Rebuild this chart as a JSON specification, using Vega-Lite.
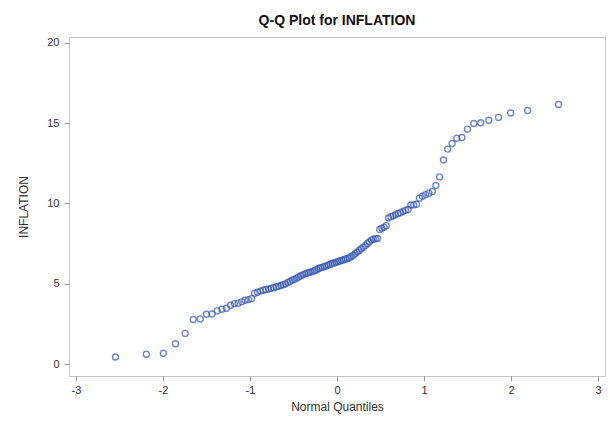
{
  "$schema": "https://vega.github.io/schema/vega-lite/v6.json",
  "width": 536,
  "height": 339,
  "autosize": {"type": "none"},
  "padding": {"left": 69, "top": 37, "right": 5, "bottom": 45},
  "background": "white",
  "title": {
    "text": "Q-Q Plot for INFLATION",
    "font": "Liberation Sans",
    "fontSize": 14,
    "fontWeight": "bold",
    "color": "#111111",
    "anchor": "middle",
    "offset": 9
  },
  "config": {
    "view": {"stroke": "#c6c6c6", "strokeWidth": 1},
    "axis": {
      "domain": false,
      "grid": false,
      "tickColor": "#9a9a9a",
      "tickSize": 5,
      "labelFont": "Liberation Sans",
      "labelFontSize": 11,
      "labelColor": "#333333",
      "titleFont": "Liberation Sans",
      "titleFontSize": 12,
      "titleFontWeight": "normal",
      "titleColor": "#333333"
    }
  },
  "data": {
    "values": [
      {"q": -2.546, "inflation": 0.45},
      {"q": -2.191, "inflation": 0.62},
      {"q": -1.996, "inflation": 0.68},
      {"q": -1.856, "inflation": 1.28},
      {"q": -1.745, "inflation": 1.92},
      {"q": -1.652, "inflation": 2.78},
      {"q": -1.572, "inflation": 2.82},
      {"q": -1.5, "inflation": 3.11},
      {"q": -1.436, "inflation": 3.13},
      {"q": -1.377, "inflation": 3.32},
      {"q": -1.323, "inflation": 3.42},
      {"q": -1.272, "inflation": 3.48},
      {"q": -1.224, "inflation": 3.67},
      {"q": -1.179, "inflation": 3.77},
      {"q": -1.136, "inflation": 3.8},
      {"q": -1.095, "inflation": 3.88},
      {"q": -1.056, "inflation": 3.98},
      {"q": -1.018, "inflation": 4.02},
      {"q": -0.982, "inflation": 4.08},
      {"q": -0.947, "inflation": 4.42},
      {"q": -0.913, "inflation": 4.48},
      {"q": -0.88, "inflation": 4.55},
      {"q": -0.848, "inflation": 4.6},
      {"q": -0.818, "inflation": 4.65},
      {"q": -0.787, "inflation": 4.68},
      {"q": -0.758, "inflation": 4.72},
      {"q": -0.729, "inflation": 4.76},
      {"q": -0.701, "inflation": 4.8},
      {"q": -0.673, "inflation": 4.85},
      {"q": -0.645, "inflation": 4.9},
      {"q": -0.619, "inflation": 4.95},
      {"q": -0.592, "inflation": 5.0},
      {"q": -0.566, "inflation": 5.08},
      {"q": -0.541, "inflation": 5.15},
      {"q": -0.515, "inflation": 5.22},
      {"q": -0.491, "inflation": 5.28},
      {"q": -0.466, "inflation": 5.35},
      {"q": -0.442, "inflation": 5.42},
      {"q": -0.418, "inflation": 5.5},
      {"q": -0.394, "inflation": 5.56},
      {"q": -0.37, "inflation": 5.62},
      {"q": -0.347, "inflation": 5.66},
      {"q": -0.324, "inflation": 5.7},
      {"q": -0.301, "inflation": 5.74},
      {"q": -0.278, "inflation": 5.78},
      {"q": -0.255, "inflation": 5.82},
      {"q": -0.232, "inflation": 5.88},
      {"q": -0.21, "inflation": 5.95},
      {"q": -0.188, "inflation": 6.0},
      {"q": -0.165, "inflation": 6.04},
      {"q": -0.143, "inflation": 6.08},
      {"q": -0.121, "inflation": 6.12},
      {"q": -0.099, "inflation": 6.18},
      {"q": -0.077, "inflation": 6.22},
      {"q": -0.055, "inflation": 6.27},
      {"q": -0.033, "inflation": 6.3},
      {"q": -0.011, "inflation": 6.35},
      {"q": 0.011, "inflation": 6.38},
      {"q": 0.033, "inflation": 6.42},
      {"q": 0.055, "inflation": 6.46},
      {"q": 0.077, "inflation": 6.5},
      {"q": 0.099, "inflation": 6.55},
      {"q": 0.121, "inflation": 6.58},
      {"q": 0.143, "inflation": 6.62},
      {"q": 0.165, "inflation": 6.7},
      {"q": 0.188, "inflation": 6.78},
      {"q": 0.21, "inflation": 6.88},
      {"q": 0.232, "inflation": 6.98},
      {"q": 0.255, "inflation": 7.08},
      {"q": 0.278, "inflation": 7.18},
      {"q": 0.301, "inflation": 7.28},
      {"q": 0.324, "inflation": 7.38},
      {"q": 0.347, "inflation": 7.5},
      {"q": 0.37, "inflation": 7.6},
      {"q": 0.394, "inflation": 7.72},
      {"q": 0.418, "inflation": 7.78},
      {"q": 0.442, "inflation": 7.8},
      {"q": 0.466, "inflation": 7.82},
      {"q": 0.491, "inflation": 8.38},
      {"q": 0.515, "inflation": 8.45},
      {"q": 0.541, "inflation": 8.52},
      {"q": 0.566, "inflation": 8.62},
      {"q": 0.592, "inflation": 9.1},
      {"q": 0.619, "inflation": 9.18},
      {"q": 0.645, "inflation": 9.23},
      {"q": 0.673, "inflation": 9.3},
      {"q": 0.701, "inflation": 9.38},
      {"q": 0.729, "inflation": 9.42},
      {"q": 0.758, "inflation": 9.5},
      {"q": 0.787, "inflation": 9.58},
      {"q": 0.818, "inflation": 9.62},
      {"q": 0.848, "inflation": 9.9},
      {"q": 0.88, "inflation": 9.91},
      {"q": 0.913, "inflation": 9.95},
      {"q": 0.947, "inflation": 10.33},
      {"q": 0.982, "inflation": 10.45},
      {"q": 1.018, "inflation": 10.55},
      {"q": 1.056, "inflation": 10.64},
      {"q": 1.095, "inflation": 10.74},
      {"q": 1.136, "inflation": 11.12},
      {"q": 1.179, "inflation": 11.65},
      {"q": 1.224, "inflation": 12.7},
      {"q": 1.272, "inflation": 13.38},
      {"q": 1.323, "inflation": 13.73},
      {"q": 1.377, "inflation": 14.05},
      {"q": 1.436, "inflation": 14.1},
      {"q": 1.5, "inflation": 14.62},
      {"q": 1.572, "inflation": 14.97},
      {"q": 1.652, "inflation": 15.02},
      {"q": 1.745, "inflation": 15.17},
      {"q": 1.856, "inflation": 15.35},
      {"q": 1.996, "inflation": 15.62},
      {"q": 2.191, "inflation": 15.78},
      {"q": 2.546, "inflation": 16.15}
    ]
  },
  "mark": {
    "type": "point",
    "shape": "circle",
    "filled": false,
    "size": 36,
    "strokeWidth": 1.4,
    "color": "#3457b2"
  },
  "encoding": {
    "x": {
      "field": "q",
      "type": "quantitative",
      "title": "Normal Quantiles",
      "scale": {"domain": [-3.08, 3.08], "nice": false, "zero": false},
      "axis": {
        "values": [-3, -2, -1, 0, 1, 2, 3],
        "labelExpr": "'' + datum.value",
        "labelPadding": 3,
        "titlePadding": 6
      }
    },
    "y": {
      "field": "inflation",
      "type": "quantitative",
      "title": "INFLATION",
      "scale": {"domain": [-0.73, 20.35], "nice": false, "zero": false},
      "axis": {
        "values": [0, 5, 10, 15, 20],
        "labelPadding": 5,
        "titlePadding": 16
      }
    }
  }
}
